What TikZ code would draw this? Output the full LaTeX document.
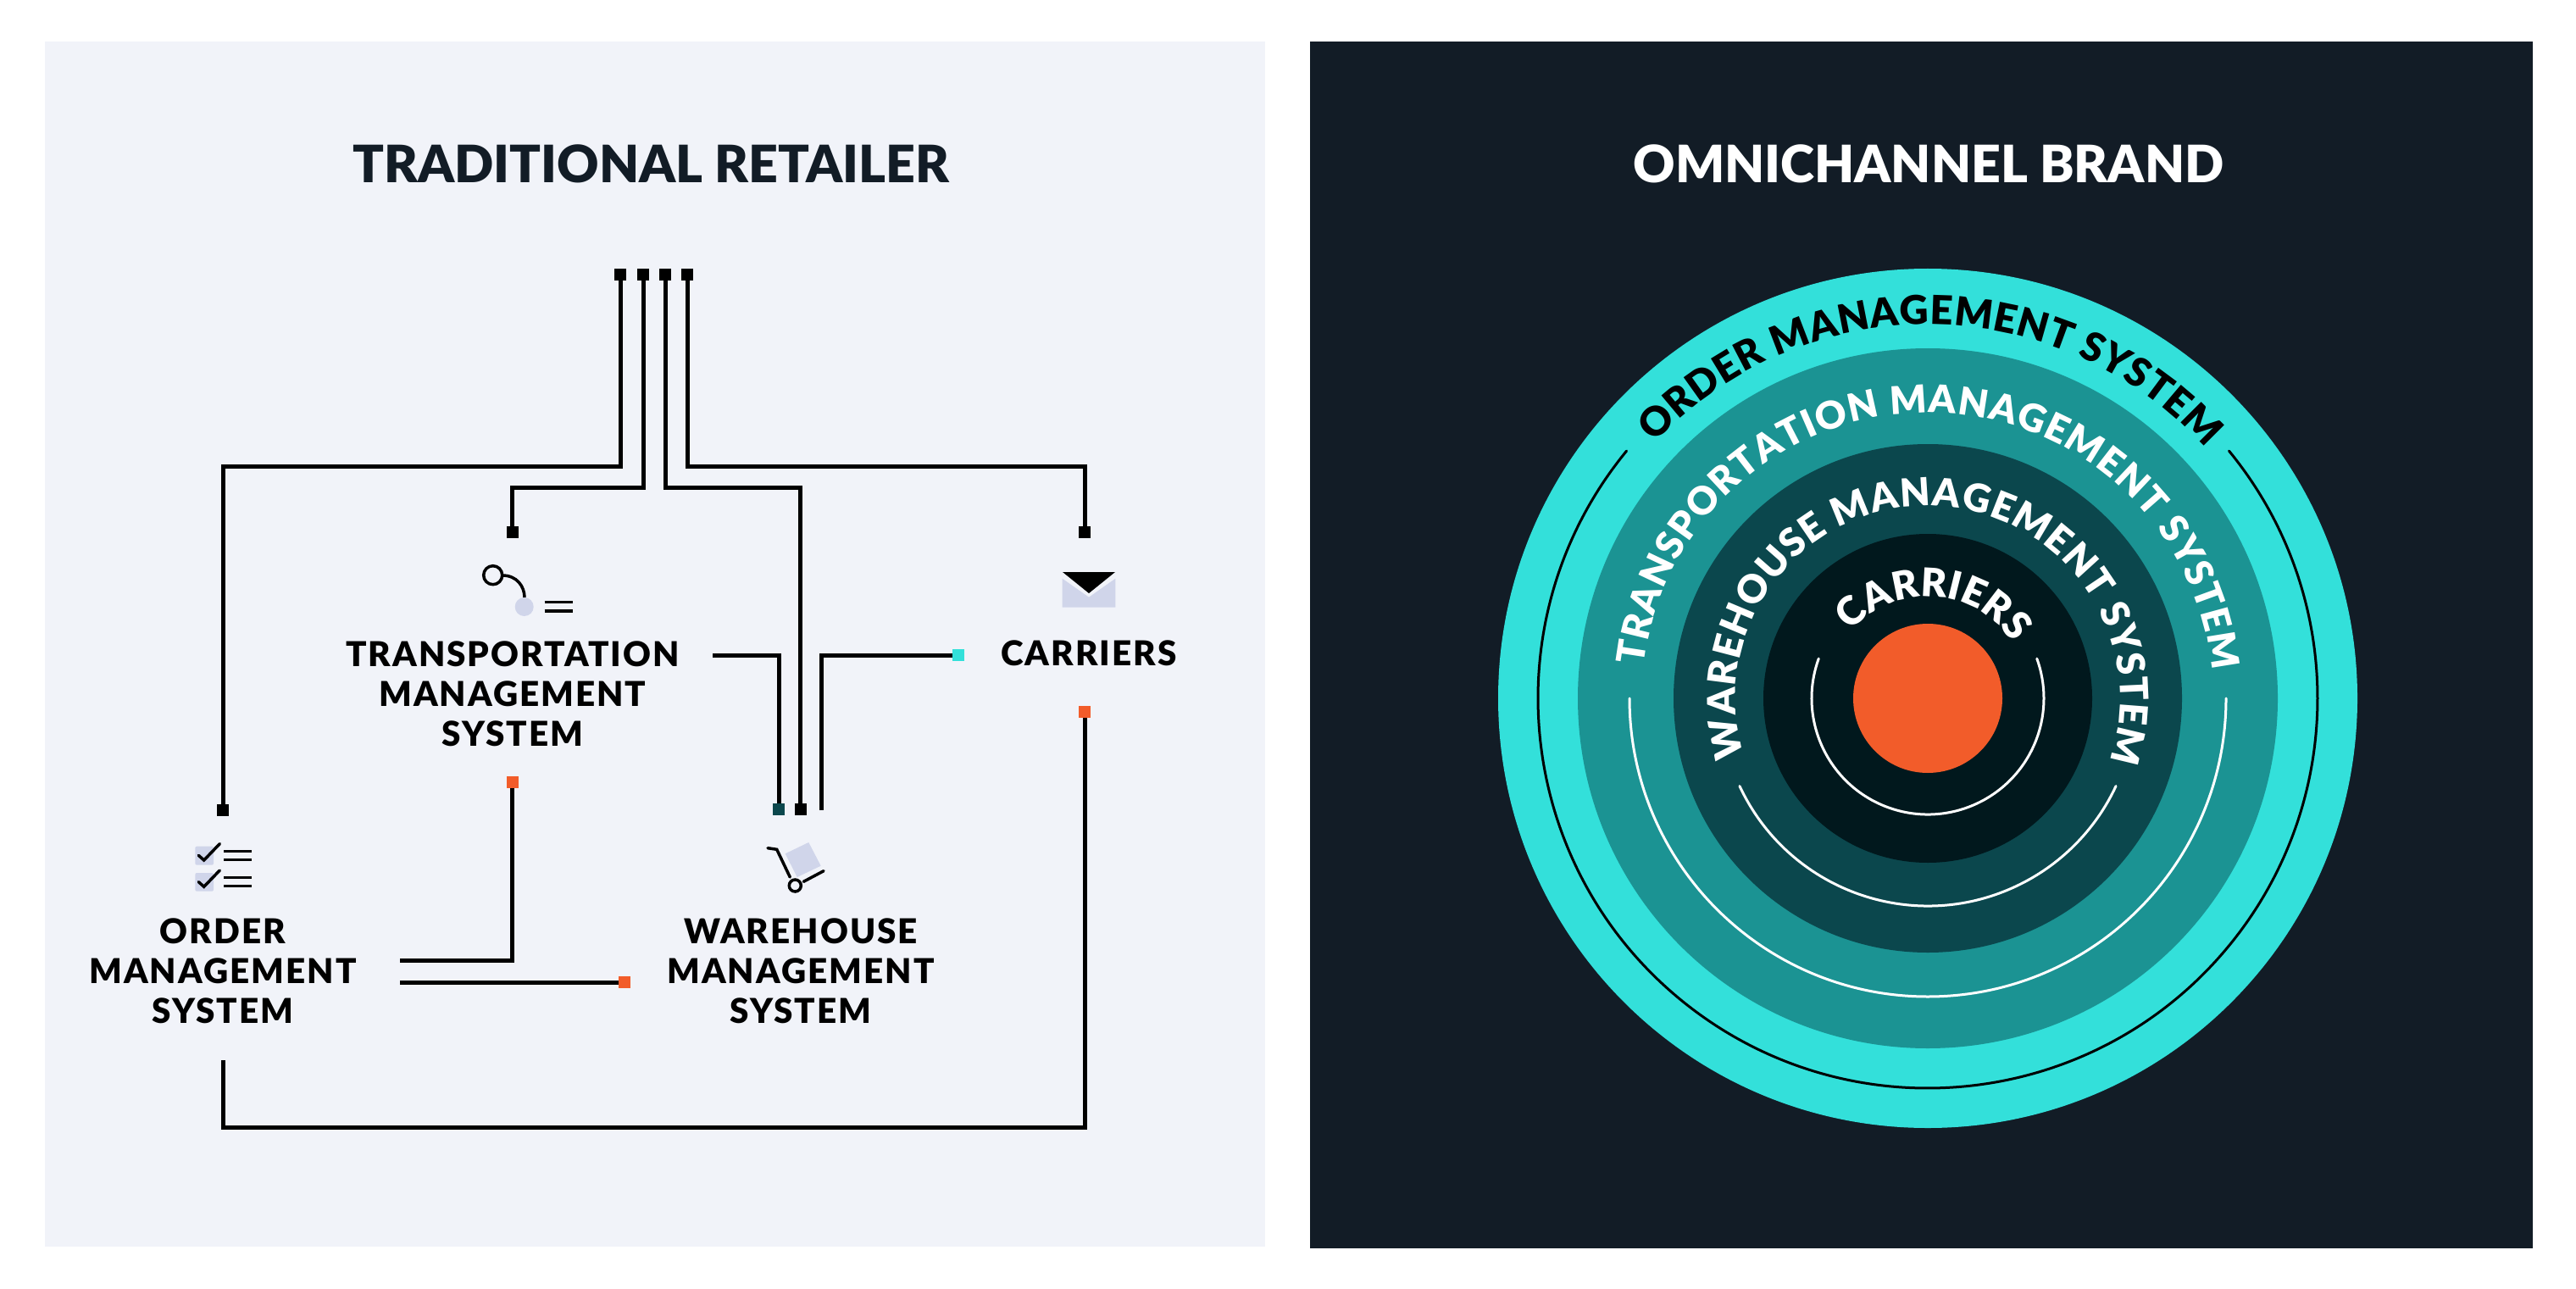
\documentclass[tikz,border=0pt]{standalone}
\usepackage{fontspec}
\usetikzlibrary{decorations.text}
\setmainfont{Lato}[BoldFont={Lato Black}]
\newfontfamily\labelfont{Lato}[LetterSpace=5,BoldFont={Lato Black}]
\definecolor{paper}{HTML}{F1F3F9}
\definecolor{ink}{HTML}{121C26}
\definecolor{lav}{HTML}{D0D5EA}
\definecolor{cyanring}{HTML}{33E0DA}
\definecolor{tealring}{HTML}{1B9393}
\definecolor{deepring}{HTML}{0B474D}
\definecolor{corering}{HTML}{01181D}
\definecolor{hot}{HTML}{F25C2A}
\tikzset{
  wire/.style={draw=black,line width=0.05cm},
  term/.style={rectangle,fill=#1,minimum size=0.14cm,inner sep=0pt,outer sep=0pt},
  term/.default=black,
  sys/.style={align=center,inner sep=0pt,font=\labelfont\bfseries\fontsize{11.5}{13.35}\selectfont},
  headline/.style={inner sep=0pt,font=\bfseries\fontsize{17.3}{20}\selectfont},
  thin arc/.style={line width=0.03cm,line cap=round},
  ico/.style={line width=0.035cm,draw=black},
  ringtext/.style={decorate,decoration={text along path,text align={fit to path},text={#1}}},
}
\begin{document}
\begin{tikzpicture}
  \useasboundingbox (0,0) rectangle (30.4,15.2);
  \fill[white] (0,0) rectangle (30.4,15.2);
  \fill[paper] (0.53,0.49) rectangle (14.93,14.71);
  \fill[ink] (15.46,0.47) rectangle (29.89,14.71);

  % left panel
  \node[headline,text=ink] (lefttitle) at (7.68,13.27) {TRADITIONAL RETAILER};
  \node[sys] (tms) at (6.05,7.01) {TRANSPORTATION\\MANAGEMENT\\SYSTEM};
  \node[sys] (car) at (12.85,7.49) {CARRIERS};
  \node[sys] (oms) at (2.63,3.74) {ORDER\\MANAGEMENT\\SYSTEM};
  \node[sys] (wms) at (9.45,3.74) {WAREHOUSE\\MANAGEMENT\\SYSTEM};

  \node[term] (top1) at (7.32,11.96) {};
  \node[term] (top2) at (7.59,11.96) {};
  \node[term] (top3) at (7.85,11.96) {};
  \node[term] (top4) at (8.11,11.96) {};
  \node[term] (omsin) at (2.63,5.64) {};
  \node[term] (tmsin) at (6.045,8.92) {};
  \node[term] (wmsin) at (9.445,5.65) {};
  \node[term] (carin) at (12.80,8.92) {};
  \node[term=deepring] (wmstms) at (9.19,5.65) {};
  \node[term=cyanring] (carwms) at (11.31,7.47) {};
  \node[term=hot] (tmsorder) at (6.045,5.97) {};
  \node[term=hot] (wmsorder) at (7.365,3.61) {};
  \node[term=hot] (carorder) at (12.80,6.80) {};

  \coordinate (busA) at (0,9.70);
  \coordinate (busB) at (0,9.45);
  \coordinate (tmsout) at (8.41,7.47);
  \coordinate (wmsout) at (9.695,5.64);
  \coordinate (omsoutA) at (4.72,3.87);
  \coordinate (omsoutB) at (4.72,3.61);
  \coordinate (omsoutC) at (2.63,2.69);

  \draw[wire] (top1.south) -- (top1.south |- busA) -| (omsin.north);
  \draw[wire] (top2.south) -- (top2.south |- busB) -| (tmsin.north);
  \draw[wire] (top3.south) -- (top3.south |- busB) -| (wmsin.north);
  \draw[wire] (top4.south) -- (top4.south |- busA) -| (carin.north);
  \draw[wire] (tmsout) -| (wmstms.north);
  \draw[wire] (wmsout) |- (carwms.west);
  \draw[wire] (omsoutA) -| (tmsorder.south);
  \draw[wire] (omsoutB) -- (wmsorder.west);
  \draw[wire] (omsoutC) -- ++(0,-0.79) -| (carorder.south);

  % route icon
  \draw[ico] (5.817,8.413) circle (0.11);
  \draw[ico] (5.93,8.41) .. controls (6.10,8.41) and (6.19,8.28) .. (6.19,8.15);
  \fill[lav] (6.187,8.04) circle (0.11);
  \draw[ico] (6.427,8.093) -- (6.757,8.093) (6.427,7.99) -- (6.757,7.99);

  % envelope icon
  \fill[lav] (12.537,8.373) -- (12.85,8.153) -- (13.163,8.373) -- (13.163,8.033) -- (12.537,8.033) -- cycle;
  \fill[black] (12.54,8.45) -- (13.16,8.45) -- (12.85,8.20) -- cycle;

  % checklist icon
  \fill[lav,rounded corners=0.02cm] (2.303,5.213) rectangle (2.52,4.993);
  \fill[lav,rounded corners=0.02cm] (2.303,4.90) rectangle (2.52,4.683);
  \draw[ico,line cap=round] (2.343,5.107) -- (2.407,5.05) -- (2.593,5.243);
  \draw[ico,line cap=round] (2.343,4.794) -- (2.407,4.737) -- (2.593,4.93);
  \draw[ico] (2.643,5.153) -- (2.97,5.153) (2.643,5.057) -- (2.97,5.057);
  \draw[ico] (2.643,4.843) -- (2.97,4.843) (2.643,4.747) -- (2.97,4.747);

  % cart icon
  \fill[lav] (9.267,5.127) -- (9.543,5.26) -- (9.687,4.983) -- (9.407,4.85) -- cycle;
  \draw[ico,line cap=round] (9.06,5.193) -- (9.167,5.177) -- (9.323,4.85);
  \draw[ico] (9.383,4.75) circle (0.07);
  \draw[ico,line cap=round] (9.483,4.797) -- (9.72,4.923);

  % right panel
  \node[headline,text=white] (righttitle) at (22.76,13.27) {OMNICHANNEL BRAND};
  \coordinate (c) at (22.75,6.96);
  \fill[cyanring] (c) circle (5.07);
  \fill[tealring] (c) circle (4.13);
  \fill[deepring] (c) circle (3.00);
  \fill[corering] (c) circle (1.94);
  \fill[hot] (c) circle (0.88);

  \draw[thin arc,black] (c) ++(140.6:4.60) arc (140.6:399.4:4.60);
  \draw[thin arc,white] (c) ++(180:3.52) arc (180:360:3.52);
  \draw[thin arc,white] (c) ++(205:2.45) arc (205:335:2.45);
  \draw[thin arc,white] (c) ++(160:1.37) arc (160:380:1.37);

  \path[ringtext={|\fontsize{13.4}{15}\selectfont\bfseries\color{black}|ORDER MANAGEMENT SYSTEM}]
    (c) ++(137:4.41) arc (137:42:4.41);
  \path[ringtext={|\fontsize{12.9}{15}\selectfont\bfseries\color{white}|TRANSPORTATION MANAGEMENT SYSTEM}]
    (c) ++(173.5:3.37) arc (173.5:5.5:3.37);
  \path[ringtext={|\fontsize{13}{15}\selectfont\bfseries\color{white}|WAREHOUSE MANAGEMENT SYSTEM}]
    (c) ++(197.5:2.27) arc (197.5:-19:2.27);
  \path[ringtext={|\fontsize{13.2}{15}\selectfont\bfseries\color{white}|CARRIERS}]
    (c) ++(139:1.20) arc (139:33:1.20);
\end{tikzpicture}
\end{document}
